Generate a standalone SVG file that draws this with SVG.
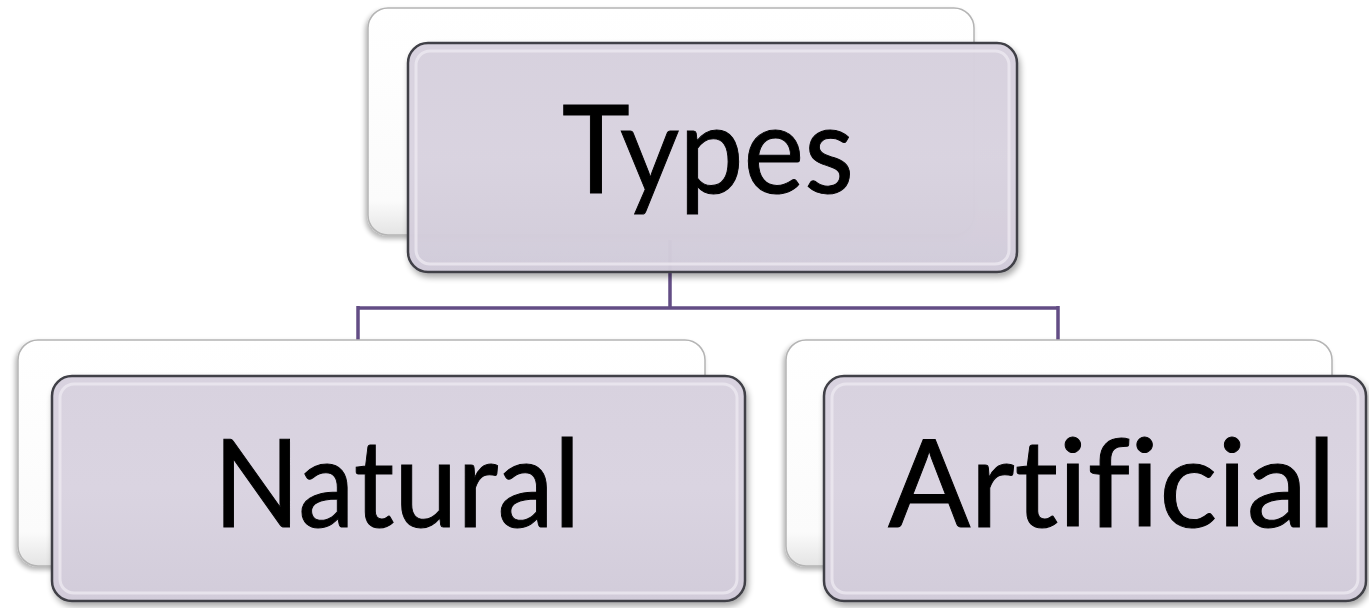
<svg xmlns="http://www.w3.org/2000/svg" width="1369" height="608" viewBox="0 0 1369 608">
<style>
.back{fill:url(#gBack);stroke:#b4b4b4;stroke-width:1.5}
.front{fill:url(#gFront);stroke:#3f3f46;stroke-width:2.5}
.inner{fill:none;stroke:#ece8f0;stroke-width:3;opacity:0.8}
.lbl{font-family:Lato,"Open Sans","Noto Sans",sans-serif;font-size:122px;fill:#000;text-anchor:middle;font-variant-ligatures:none;font-feature-settings:"liga" 0,"clig" 0;stroke:#000;stroke-width:1}
.conn{fill:none;stroke:#634d85;stroke-width:3.5}
</style>
<defs>
<linearGradient id="gBack" x1="0" y1="0" x2="0" y2="1">
<stop offset="0" stop-color="#ffffff"/>
<stop offset="0.85" stop-color="#fbfbfb"/>
<stop offset="1" stop-color="#e4e4e4"/>
</linearGradient>
<linearGradient id="gFront" x1="0" y1="0" x2="0" y2="1">
<stop offset="0" stop-color="#d8d2df"/>
<stop offset="0.5" stop-color="#dad4e1"/>
<stop offset="1" stop-color="#d2ccda"/>
</linearGradient>
<filter id="sh" x="-5%" y="-5%" width="112%" height="115%">
<feGaussianBlur in="SourceAlpha" stdDeviation="3"/>
<feOffset dx="2" dy="4"/>
<feComponentTransfer><feFuncA type="linear" slope="0.35"/></feComponentTransfer>
<feMerge><feMergeNode/><feMergeNode in="SourceGraphic"/></feMerge>
</filter>
<filter id="shb" x="-5%" y="-5%" width="112%" height="115%">
<feGaussianBlur in="SourceAlpha" stdDeviation="2.5"/>
<feOffset dx="-2" dy="3"/>
<feComponentTransfer><feFuncA type="linear" slope="0.3"/></feComponentTransfer>
<feMerge><feMergeNode/><feMergeNode in="SourceGraphic"/></feMerge>
</filter>
</defs>
<rect width="1369" height="608" fill="#ffffff"/>
<g id="connectors">
<path class="conn" d="M670,240 V308 M358,308 H1058 M358,306 V342 M1058,306 V342"/>
</g>
<g id="node-types">
<rect class="back" filter="url(#shb)" x="368" y="8" width="606" height="227" rx="20"/>
<rect class="front" filter="url(#sh)" x="408" y="43" width="609" height="229" rx="20" fill-opacity="0.97"/>
<rect class="inner" x="416" y="51" width="593" height="213" rx="14"/>
<text class="lbl" x="708" y="193" textLength="292" lengthAdjust="spacingAndGlyphs">Types</text>
</g>
<g id="node-natural">
<rect class="back" filter="url(#shb)" x="18" y="340" width="687" height="226" rx="20"/>
<rect class="front" filter="url(#sh)" x="52" y="376" width="693" height="225" rx="20"/>
<rect class="inner" x="60" y="384" width="677" height="209" rx="14"/>
<text class="lbl" x="397" y="527" textLength="367" lengthAdjust="spacingAndGlyphs">Natural</text>
</g>
<g id="node-artificial">
<rect class="back" filter="url(#shb)" x="786" y="340" width="546" height="226" rx="20"/>
<rect class="front" filter="url(#sh)" x="824" y="376" width="542" height="225" rx="20"/>
<rect class="inner" x="832" y="384" width="526" height="209" rx="14"/>
<text class="lbl" x="1112" y="527" textLength="448" lengthAdjust="spacingAndGlyphs">Artificial</text>
</g>
</svg>
